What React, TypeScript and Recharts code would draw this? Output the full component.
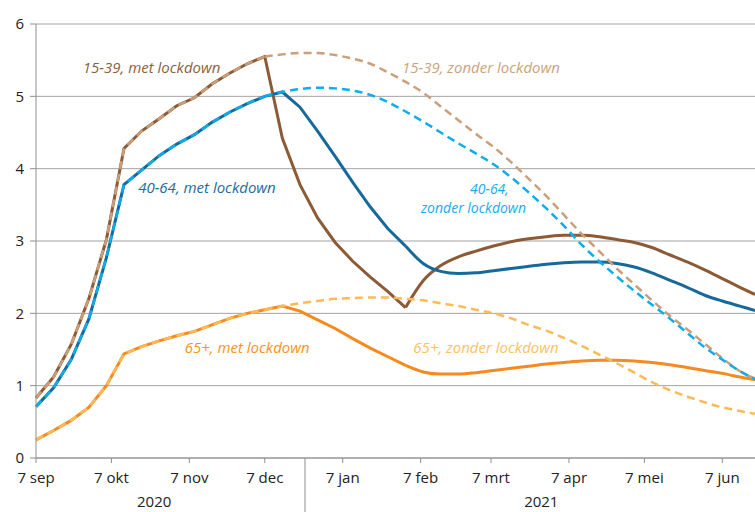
import { LineChart, Line, XAxis, YAxis, CartesianGrid, ReferenceDot } from 'recharts';

// days since 7 sep 2020
const days = [0, 7, 14, 21, 28, 35, 42, 49, 56, 63, 70, 77, 84, 91, 98, 105, 112, 119, 126, 133, 140, 147, 154, 161, 168, 175, 182, 189, 196, 203, 210, 217, 224, 231, 238, 245, 252, 259, 266, 273, 280, 286];

const young = [0.83, 1.12, 1.57, 2.2, 3.02, 4.28, 4.52, 4.69, 4.87, 4.98, 5.17, 5.32, 5.45, 5.55, 4.42, 3.78, 3.32, 2.98, 2.72, 2.5, 2.3, 2.08, 2.45, 2.66, 2.78, 2.86, 2.93, 2.99, 3.03, 3.06, 3.08, 3.08, 3.06, 3.02, 2.98, 2.91, 2.81, 2.71, 2.6, 2.48, 2.36, 2.26];
const youngNo = [0.83, 1.12, 1.57, 2.2, 3.02, 4.28, 4.52, 4.69, 4.87, 4.98, 5.17, 5.32, 5.45, 5.55, 5.58, 5.6, 5.6, 5.57, 5.52, 5.45, 5.33, 5.2, 5.05, 4.86, 4.67, 4.48, 4.3, 4.09, 3.86, 3.62, 3.36, 3.1, 2.86, 2.62, 2.4, 2.18, 1.97, 1.78, 1.58, 1.38, 1.2, 1.1];
const middle = [0.71, 0.97, 1.36, 1.92, 2.77, 3.78, 3.98, 4.18, 4.34, 4.47, 4.64, 4.78, 4.9, 5.0, 5.06, 4.85, 4.52, 4.17, 3.81, 3.47, 3.17, 2.93, 2.69, 2.58, 2.55, 2.56, 2.59, 2.62, 2.65, 2.68, 2.7, 2.71, 2.71, 2.69, 2.64, 2.56, 2.46, 2.36, 2.25, 2.17, 2.1, 2.04];
const middleNo = [0.71, 0.97, 1.36, 1.92, 2.77, 3.78, 3.98, 4.18, 4.34, 4.47, 4.64, 4.78, 4.9, 5.0, 5.06, 5.1, 5.12, 5.11, 5.08, 5.02, 4.92, 4.79, 4.65, 4.5, 4.35, 4.21, 4.06, 3.88, 3.67, 3.45, 3.21, 2.95, 2.72, 2.51, 2.31, 2.12, 1.93, 1.73, 1.53, 1.36, 1.2, 1.09];
const old = [0.25, 0.38, 0.52, 0.7, 1.0, 1.44, 1.54, 1.62, 1.69, 1.75, 1.84, 1.93, 2.0, 2.05, 2.1, 2.03, 1.91, 1.79, 1.65, 1.52, 1.4, 1.28, 1.19, 1.16, 1.16, 1.18, 1.21, 1.24, 1.27, 1.3, 1.32, 1.34, 1.35, 1.35, 1.34, 1.32, 1.29, 1.25, 1.21, 1.17, 1.12, 1.08];
const oldNo = [0.25, 0.38, 0.52, 0.7, 1.0, 1.44, 1.54, 1.62, 1.69, 1.75, 1.84, 1.93, 2.0, 2.05, 2.1, 2.14, 2.17, 2.2, 2.21, 2.22, 2.22, 2.2, 2.18, 2.14, 2.1, 2.05, 2.0, 1.93, 1.84, 1.76, 1.66, 1.55, 1.43, 1.31, 1.18, 1.05, 0.94, 0.85, 0.77, 0.7, 0.65, 0.61];

const tickDays = [0, 30, 61, 91, 122, 153, 181, 212, 242, 273];
const tickLabels = ['7 sep', '7 okt', '7 nov', '7 dec', '7 jan', '7 feb', '7 mrt', '7 apr', '7 mei', '7 jun'];
const yearDays = [47, 201];
const yearLabels = ['2020', '2021'];
const yearBreak = 107;

// zonder-lockdown scenario splits off at 7 dec, met-lockdown turns at 147
const splitNo = 91;
const splitMet = 147;

const data = days.map((d, i) => ({
  day: d,
  youngA: d <= splitMet ? young[i] : null, youngB: d >= splitMet ? young[i] : null,
  middleA: d <= splitMet ? middle[i] : null, middleB: d >= splitMet ? middle[i] : null,
  oldA: d <= splitMet ? old[i] : null, oldB: d >= splitMet ? old[i] : null,
  youngNoA: d <= splitNo ? youngNo[i] : null, youngNoB: d >= splitNo ? youngNo[i] : null,
  middleNoA: d <= splitNo ? middleNo[i] : null, middleNoB: d >= splitNo ? middleNo[i] : null,
  oldNoA: d <= splitNo ? oldNo[i] : null, oldNoB: d >= splitNo ? oldNo[i] : null,
}));

const FONT = '"Open Sans", sans-serif';
const GREY = '#8f8f8f';

const series = [
  { key: 'young', color: '#8c5a34', noColor: '#c9a079' },
  { key: 'middle', color: '#17699c', noColor: '#0badec' },
  { key: 'old', color: '#f68a1f', noColor: '#fdba55' },
];

const labels = [
  { x: 46, y: 5.4, lines: ['15-39, met lockdown'], color: '#8d5f3e' },
  { x: 174, y: 3.58, lines: ['40-64,', 'zonder lockdown'], color: '#18ade8' },
  { x: 177, y: 5.4, lines: ['15-39, zonder lockdown'], color: '#c9a47e' },
  { x: 68, y: 3.74, lines: ['40-64, met lockdown'], color: '#1d6c9e' },
  { x: 84, y: 1.52, lines: ['65+, met lockdown'], color: '#f7941d' },
  { x: 179, y: 1.52, lines: ['65+, zonder lockdown'], color: '#fec164' },
];

const NoteLabel = (props: any) => {
  const { viewBox, lines, color } = props;
  const cx = viewBox.x + (viewBox.width || 0) / 2;
  const cy = viewBox.y + (viewBox.height || 0) / 2;
  const multi = lines.length > 1;
  const lh = 19;
  const top = cy - ((lines.length - 1) * lh) / 2;
  return (
    <text fill={color} fontSize={multi ? 14 : 15} fontStyle="italic" fontFamily={FONT} textAnchor="middle">
      {lines.map((t: string, i: number) => (
        <tspan key={t} x={multi && i === 0 ? cx + 16 : cx} y={top + i * lh} dy="0.35em">
          {t}
        </tspan>
      ))}
    </text>
  );
};

const YearTick = (props: any) => {
  const { x, y, payload } = props;
  if (payload.value === yearBreak) {
    return <line x1={x} x2={x} y1={y - 30} y2={y + 24} stroke={GREY} strokeWidth={1} />;
  }
  const idx = yearDays.indexOf(payload.value);
  return (
    <text x={x} y={y + 19} textAnchor="middle" fontSize={15} fill="#222" fontFamily={FONT}>
      {yearLabels[idx]}
    </text>
  );
};

export default function App() {
  return (
    <div style={{ position: 'absolute', left: 0, top: 0, background: '#fff' }}>
      <LineChart width={755} height={512} data={data} margin={{ top: 24, right: 0, left: 0, bottom: 0 }}>
        <CartesianGrid vertical={false} stroke="#a3a3a3" />
        <XAxis
          dataKey="day"
          type="number"
          domain={[0, 286]}
          ticks={tickDays}
          tickFormatter={(v) => tickLabels[tickDays.indexOf(v)]}
          height={30}
          tickSize={5}
          tickMargin={9}
          stroke={GREY}
          tick={{ fill: '#222', fontSize: 15, fontFamily: FONT }}
          interval={0}
        />
        <XAxis
          xAxisId="year"
          dataKey="day"
          type="number"
          domain={[0, 286]}
          ticks={[yearDays[0], yearBreak, yearDays[1]]}
          height={24}
          tickSize={0}
          tickMargin={0}
          axisLine={false}
          tickLine={false}
          tick={<YearTick />}
          interval={0}
        />
        <YAxis
          type="number"
          domain={[0, 6]}
          ticks={[0, 1, 2, 3, 4, 5, 6]}
          width={36}
          tickSize={6}
          tickMargin={6}
          stroke={GREY}
          tick={{ fill: '#222', fontSize: 15, fontFamily: FONT }}
          interval={0}
        />
        {series.map((s) => (
          <Line key={s.key + 'A'} dataKey={s.key + 'A'} stroke={s.color} strokeWidth={3} dot={false} type="linear" isAnimationActive={false} />
        ))}
        {series.map((s) => (
          <Line key={s.key + 'B'} dataKey={s.key + 'B'} stroke={s.color} strokeWidth={3} dot={false} type="monotone" isAnimationActive={false} />
        ))}
        {series.map((s) => (
          <Line key={s.key + 'NoA'} dataKey={s.key + 'NoA'} stroke={s.noColor} strokeWidth={2.5} strokeDasharray="8 5" dot={false} type="linear" isAnimationActive={false} />
        ))}
        {series.map((s) => (
          <Line key={s.key + 'NoB'} dataKey={s.key + 'NoB'} stroke={s.noColor} strokeWidth={2.5} strokeDasharray="8 5" dot={false} type="monotone" isAnimationActive={false} />
        ))}
        {labels.map((l) => (
          <ReferenceDot
            key={l.lines[0]}
            x={l.x}
            y={l.y}
            r={0}
            stroke="none"
            fill="none"
            label={<NoteLabel lines={l.lines} color={l.color} />}
          />
        ))}
      </LineChart>
    </div>
  );
}
